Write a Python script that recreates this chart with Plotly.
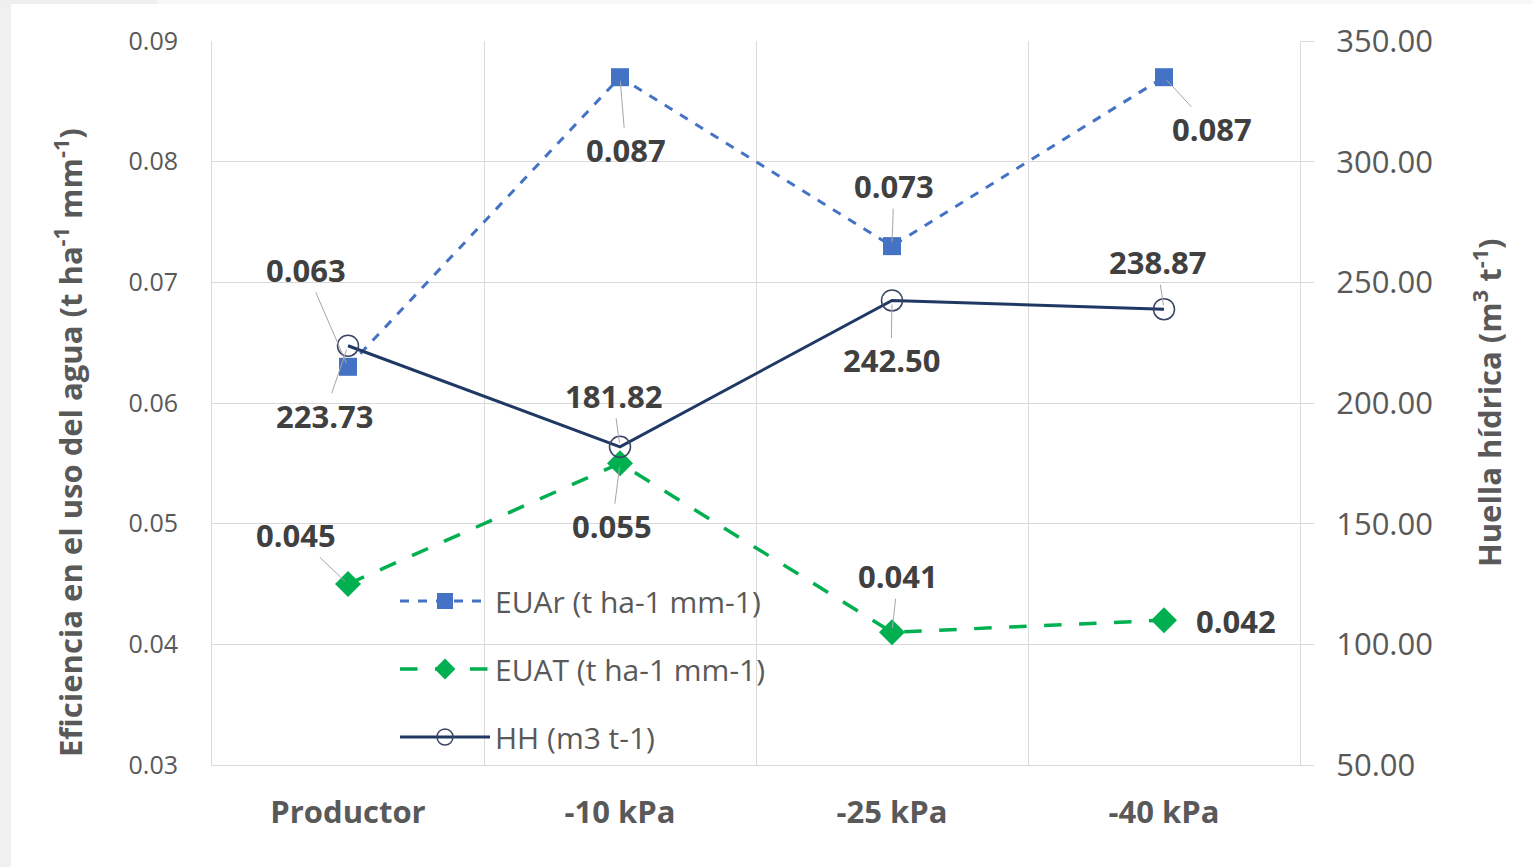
import plotly.graph_objects as go

# Treatments and series values
categorias = ["Productor", "-10 kPa", "-25 kPa", "-40 kPa"]
euar = [0.063, 0.087, 0.073, 0.087]        # EUAr (t ha-1 mm-1)
euat = [0.045, 0.055, 0.041, 0.042]        # EUAT (t ha-1 mm-1)
hh = [223.73, 181.82, 242.50, 238.87]      # HH (m3 t-1)

# Label offsets (pixels) relative to each point
off_euar = [(-42, -97), (6, 73), (2, -60), (48, 52)]
off_euat = [(-52, -49), (-8, 63), (6, -56), (72, 1)]
off_hh = [(-24, 70), (-7, -51), (-1, 60), (-7, -47)]

W, H = 1532, 867
L, R, T, B = 212, 232, 41, 102
PW, PH = W - L - R, H - T - B


def px_x(p):
    return (p - L) / PW


def px_y(p):
    return (H - B - p) / PH


FONT = "Open Sans"
GRAY = "#595959"
LABEL = "#404040"
GRID = "#D9D9D9"

fig = go.Figure()

fig.add_trace(go.Scatter(
    x=categorias, y=euar, name="EUAr (t ha-1 mm-1)", legendgroup="a",
    mode="lines+markers",
    line=dict(color="#4472C4", width=3, dash="dash"),
    marker=dict(symbol="square", size=18, color="#4472C4"),
))
fig.add_trace(go.Scatter(
    x=categorias, y=euat, name="EUAT (t ha-1 mm-1)", legendgroup="b",
    mode="lines+markers",
    line=dict(color="#00B050", width=3.5, dash="longdash"),
    marker=dict(symbol="diamond", size=20, color="#00B050"),
))
fig.add_trace(go.Scatter(
    x=categorias, y=hh, name="HH (m3 t-1)", legendgroup="c", yaxis="y2",
    mode="lines+markers",
    line=dict(color="#1F3864", width=3),
    marker=dict(symbol="circle-open", size=21, color="#3A4566",
                line=dict(width=1.5)),
))

annotations = []


def add_labels(values, offsets, fmt, yref):
    for i, (v, (dx, dy)) in enumerate(zip(values, offsets)):
        show = abs(dy) >= 5
        annotations.append(dict(
            x=categorias[i], y=v, xref="x", yref=yref,
            text=fmt.format(v), showarrow=show,
            ax=dx, ay=dy, axref="pixel", ayref="pixel",
            arrowhead=0, arrowwidth=1, arrowcolor="#A6A6A6", standoff=4,
            xshift=0 if show else dx, yshift=0 if show else -dy,
            font=dict(family=FONT, size=31, color=LABEL, weight="bold"),
        ))


add_labels(euar, off_euar, "{:.3f}", "y")
add_labels(euat, off_euat, "{:.3f}", "y")
add_labels(hh, off_hh, "{:.2f}", "y2")

# Axis titles
annotations.append(dict(
    x=px_x(68), y=px_y(443), xref="paper", yref="paper", showarrow=False,
    textangle=-90, xanchor="center", yanchor="middle",
    text="Eficiencia en el uso del agua (t ha<sup>-1</sup> mm<sup>-1</sup>)",
    font=dict(family=FONT, size=31, color=GRAY, weight="bold"),
))
annotations.append(dict(
    x=px_x(1487), y=px_y(403), xref="paper", yref="paper", showarrow=False,
    textangle=-90, xanchor="center", yanchor="middle",
    text="Huella hídrica (m<sup>3</sup> t<sup>-1</sup>)",
    font=dict(family=FONT, size=31, color=GRAY, weight="bold"),
))

# Light frame strips along the top and left page edges
shapes = [
    dict(type="rect", xref="paper", yref="paper", layer="below",
         x0=px_x(0), x1=px_x(11), y0=px_y(H), y1=px_y(0),
         fillcolor="#F0F0F0", line=dict(width=0)),
    dict(type="rect", xref="paper", yref="paper", layer="below",
         x0=px_x(0), x1=px_x(157), y0=px_y(4), y1=px_y(0),
         fillcolor="#EFEFEF", line=dict(width=0)),
    dict(type="rect", xref="paper", yref="paper", layer="below",
         x0=px_x(157), x1=px_x(W), y0=px_y(4), y1=px_y(0),
         fillcolor="#F7F7F7", line=dict(width=0)),
]

fig.update_layout(
    width=W, height=H,
    margin=dict(l=L, r=R, t=T, b=B, pad=0),
    paper_bgcolor="white", plot_bgcolor="white",
    font=dict(family=FONT, color=GRAY),
    showlegend=True,
    legend=dict(
        x=px_x(395), y=px_y(575), xanchor="left", yanchor="top",
        bgcolor="rgba(0,0,0,0)", font=dict(family=FONT, size=30, color=GRAY),
        traceorder="grouped", tracegroupgap=26, itemwidth=90,
    ),
    xaxis=dict(
        type="category", range=[-0.5, 3.5], tickson="boundaries",
        showgrid=True, gridcolor=GRID, gridwidth=1,
        ticks="", showline=True, linecolor=GRID, linewidth=1, zeroline=False,
        tickfont=dict(family=FONT, size=31, color=GRAY, weight="bold"),
        ticklabelstandoff=20,
    ),
    yaxis=dict(
        range=[0.03, 0.09], dtick=0.01, tickformat=".2f",
        showgrid=True, gridcolor=GRID, gridwidth=1,
        zeroline=False, showline=True, linecolor=GRID, linewidth=1, ticks="",
        tickfont=dict(family=FONT, size=25, color=GRAY),
        ticklabelstandoff=28,
    ),
    yaxis2=dict(
        range=[50, 350], dtick=50, tickformat=".2f",
        overlaying="y", side="right", showgrid=False, zeroline=False,
        showline=True, linecolor=GRID, linewidth=1,
        ticks="outside", ticklen=13, tickcolor=GRID,
        tickfont=dict(family=FONT, size=31, color=GRAY),
        ticklabelstandoff=16,
    ),
    annotations=annotations,
    shapes=shapes,
)

fig.write_html("out.html")
